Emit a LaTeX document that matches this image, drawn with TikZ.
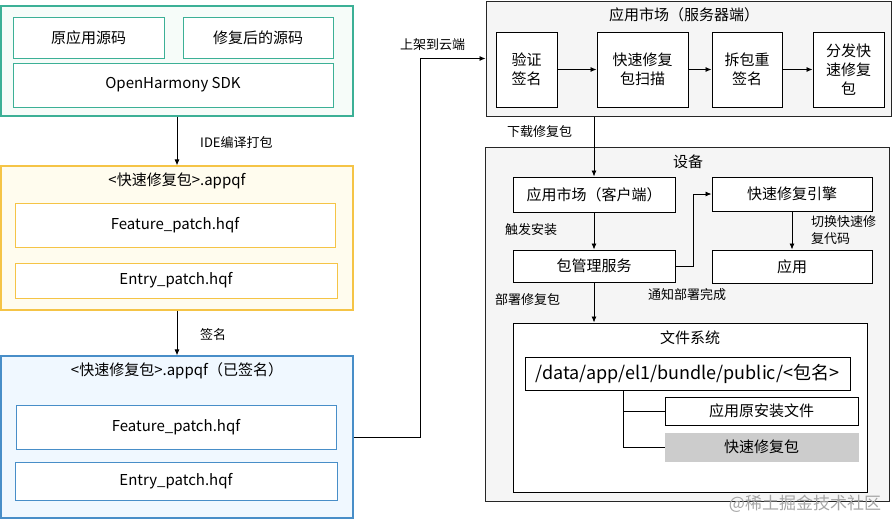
\documentclass[tikz,border=0pt]{standalone}
\usepackage{fontspec}
\setmainfont{Noto Sans CJK SC}
\usetikzlibrary{positioning,arrows.meta}
\definecolor{srcgreen}{RGB}{60,176,150}
\definecolor{srcgreenbg}{RGB}{246,252,249}
\definecolor{pkgyellow}{RGB}{245,196,70}
\definecolor{pkgyellowbg}{RGB}{255,252,238}
\definecolor{signblue}{RGB}{72,142,200}
\definecolor{signbluebg}{RGB}{240,248,255}
\definecolor{panegray}{RGB}{245,245,245}
\definecolor{qfgray}{RGB}{204,204,204}
\tikzset{
	pane/.style={draw, line width=1.2pt, inner sep=0pt},
	cell/.style={draw, fill=white, line width=1pt, inner sep=0pt, align=center,
		font=\fontsize{15}{19}\selectfont},
	title/.style={inner sep=0pt, font=\fontsize{15}{19}\selectfont},
	note/.style={anchor=west, inner sep=0pt, align=left, font=\fontsize{13}{17}\selectfont},
	flow/.style={-{Latex[length=6pt,width=5pt]}, line width=0.8pt},
}
\begin{document}
\begin{tikzpicture}[x=1pt,y=-1pt]
	\useasboundingbox (0,0) rectangle (892,520);
	% source side
	\node (src) [pane, draw=srcgreen, fill=srcgreenbg, minimum width=352, minimum height=110] at (177,61) {};
	\node (orisrc) [cell, draw=srcgreen, minimum width=151, minimum height=41] at (88.5,37.5) {原应用源码};
	\node (newsrc) [cell, draw=srcgreen, minimum width=150, minimum height=41] at (258,37.5) {修复后的源码};
	\node (sdk) [cell, draw=srcgreen, minimum width=320, minimum height=44] at (173,85) {OpenHarmony SDK};
	
	% unsigned package
	\node (appqf) [pane, draw=pkgyellow, fill=pkgyellowbg, minimum width=352, minimum height=144] at (177,238) {};
	\node (appqft) [title] at (177,181) {<快速修复包>.appqf};
	\node (feat) [cell, draw=pkgyellow, minimum width=320, minimum height=44] at (175,225) {Feature\_patch.hqf};
	\node (entry) [cell, draw=pkgyellow, minimum width=322, minimum height=35] at (176,280.5) {Entry\_patch.hqf};
	
	% signed package
	\node (signed) [pane, draw=signblue, fill=signbluebg, minimum width=352, minimum height=162] at (177,437) {};
	\node (signedt) [title] at (177,371) {<快速修复包>.appqf（已签名）};
	\node (sfeat) [cell, draw=signblue, minimum width=320, minimum height=44] at (176,427) {Feature\_patch.hqf};
	\node (sentry) [cell, draw=signblue, minimum width=322, minimum height=38] at (176,481) {Entry\_patch.hqf};
	
	\draw[flow] (src) -- (appqf);
	\node (ide) [note] at (200,143) {IDE编译打包};
	\draw[flow] (appqf) -- (signed);
	\node (sign) [note] at (200,335) {签名};
	
	% app market, server side
	\node (server) [pane, draw=black!85, line width=1pt, fill=panegray, minimum width=405, minimum height=115] at (688.5,58.5) {};
	\node (servert) [title] at (684,15) {应用市场（服务器端）};
	\node (verify) [cell, minimum width=61, minimum height=75] at (526.5,69.5) {验证\\签名};
	\node (scan) [cell, minimum width=91, minimum height=75] at (642.5,69.5) {快速修复\\包扫描};
	\node (resign) [cell, minimum width=70, minimum height=75] at (747,69.5) {拆包重\\签名};
	\node (dist) [cell, minimum width=71, minimum height=75] at (848.5,69.5) {分发快\\速修复\\包};
	\draw[flow] (verify) -- (scan);
	\draw[flow] (scan) -- (resign);
	\draw[flow] (resign) -- (dist);
	
	\draw[flow] (signed.east) -- (420,437) |- (server.west);
	\node (upload) [note] at (400,45) {上架到云端};
	
	% device
	\node (device) [pane, draw=black!85, line width=1pt, fill=panegray, minimum width=404, minimum height=354] at (687,324) {};
	\node (devicet) [title] at (688,162) {设备};
	\node (client) [cell, minimum width=162, minimum height=35] at (594,194.5) {应用市场（客户端）};
	\node (engine) [cell, minimum width=160, minimum height=34] at (792,194) {快速修复引擎};
	\node (bms) [cell, minimum width=162, minimum height=32] at (594,266) {包管理服务};
	\node (app) [cell, minimum width=160, minimum height=33] at (792,266.5) {应用};
	
	\draw[flow] (server.south -| client.north) -- (client.north);
	\node (download) [note] at (507,132) {下载修复包};
	\draw[flow] (client) -- (bms);
	\node (install) [note] at (505,230) {触发安装};
	\draw[flow] (bms.east) -- ++(18,0) |- (engine.west);
	\node (notify) [note] at (648,295) {通知部署完成};
	\draw[flow] (engine) -- (app);
	\node (switch) [note] at (811,230.5) {切换快速修\\复代码};
	
	% file system
	\node (fs) [cell, minimum width=354, minimum height=169] at (690,407.5) {};
	\node (fst) [title] at (690,338) {文件系统};
	\node (path) [cell, minimum width=325, minimum height=33, font=\fontsize{18}{22}\selectfont] at (687.5,373.5) {/data/app/el1/bundle/public/<包名>};
	\node (orig) [cell, minimum width=193, minimum height=28] at (761.5,411) {应用原安装文件};
	\node (qfp) [cell, draw=qfgray, fill=qfgray, minimum width=193, minimum height=28] at (761.5,447) {快速修复包};
	\draw[line width=1pt] (623,390) |- (qfp.west);
	\draw[line width=1pt] (623,411) -- (orig.west);
	\draw[flow] (bms.south) -- (bms.south |- fs.north);
	\node (deploy) [note] at (495,300) {部署修复包};
	
	\node (mark) [inner sep=0pt, text=black!35, font=\fontsize{17}{20}\selectfont] at (805,504) {@稀土掘金技术社区};
\end{tikzpicture}
\end{document}
